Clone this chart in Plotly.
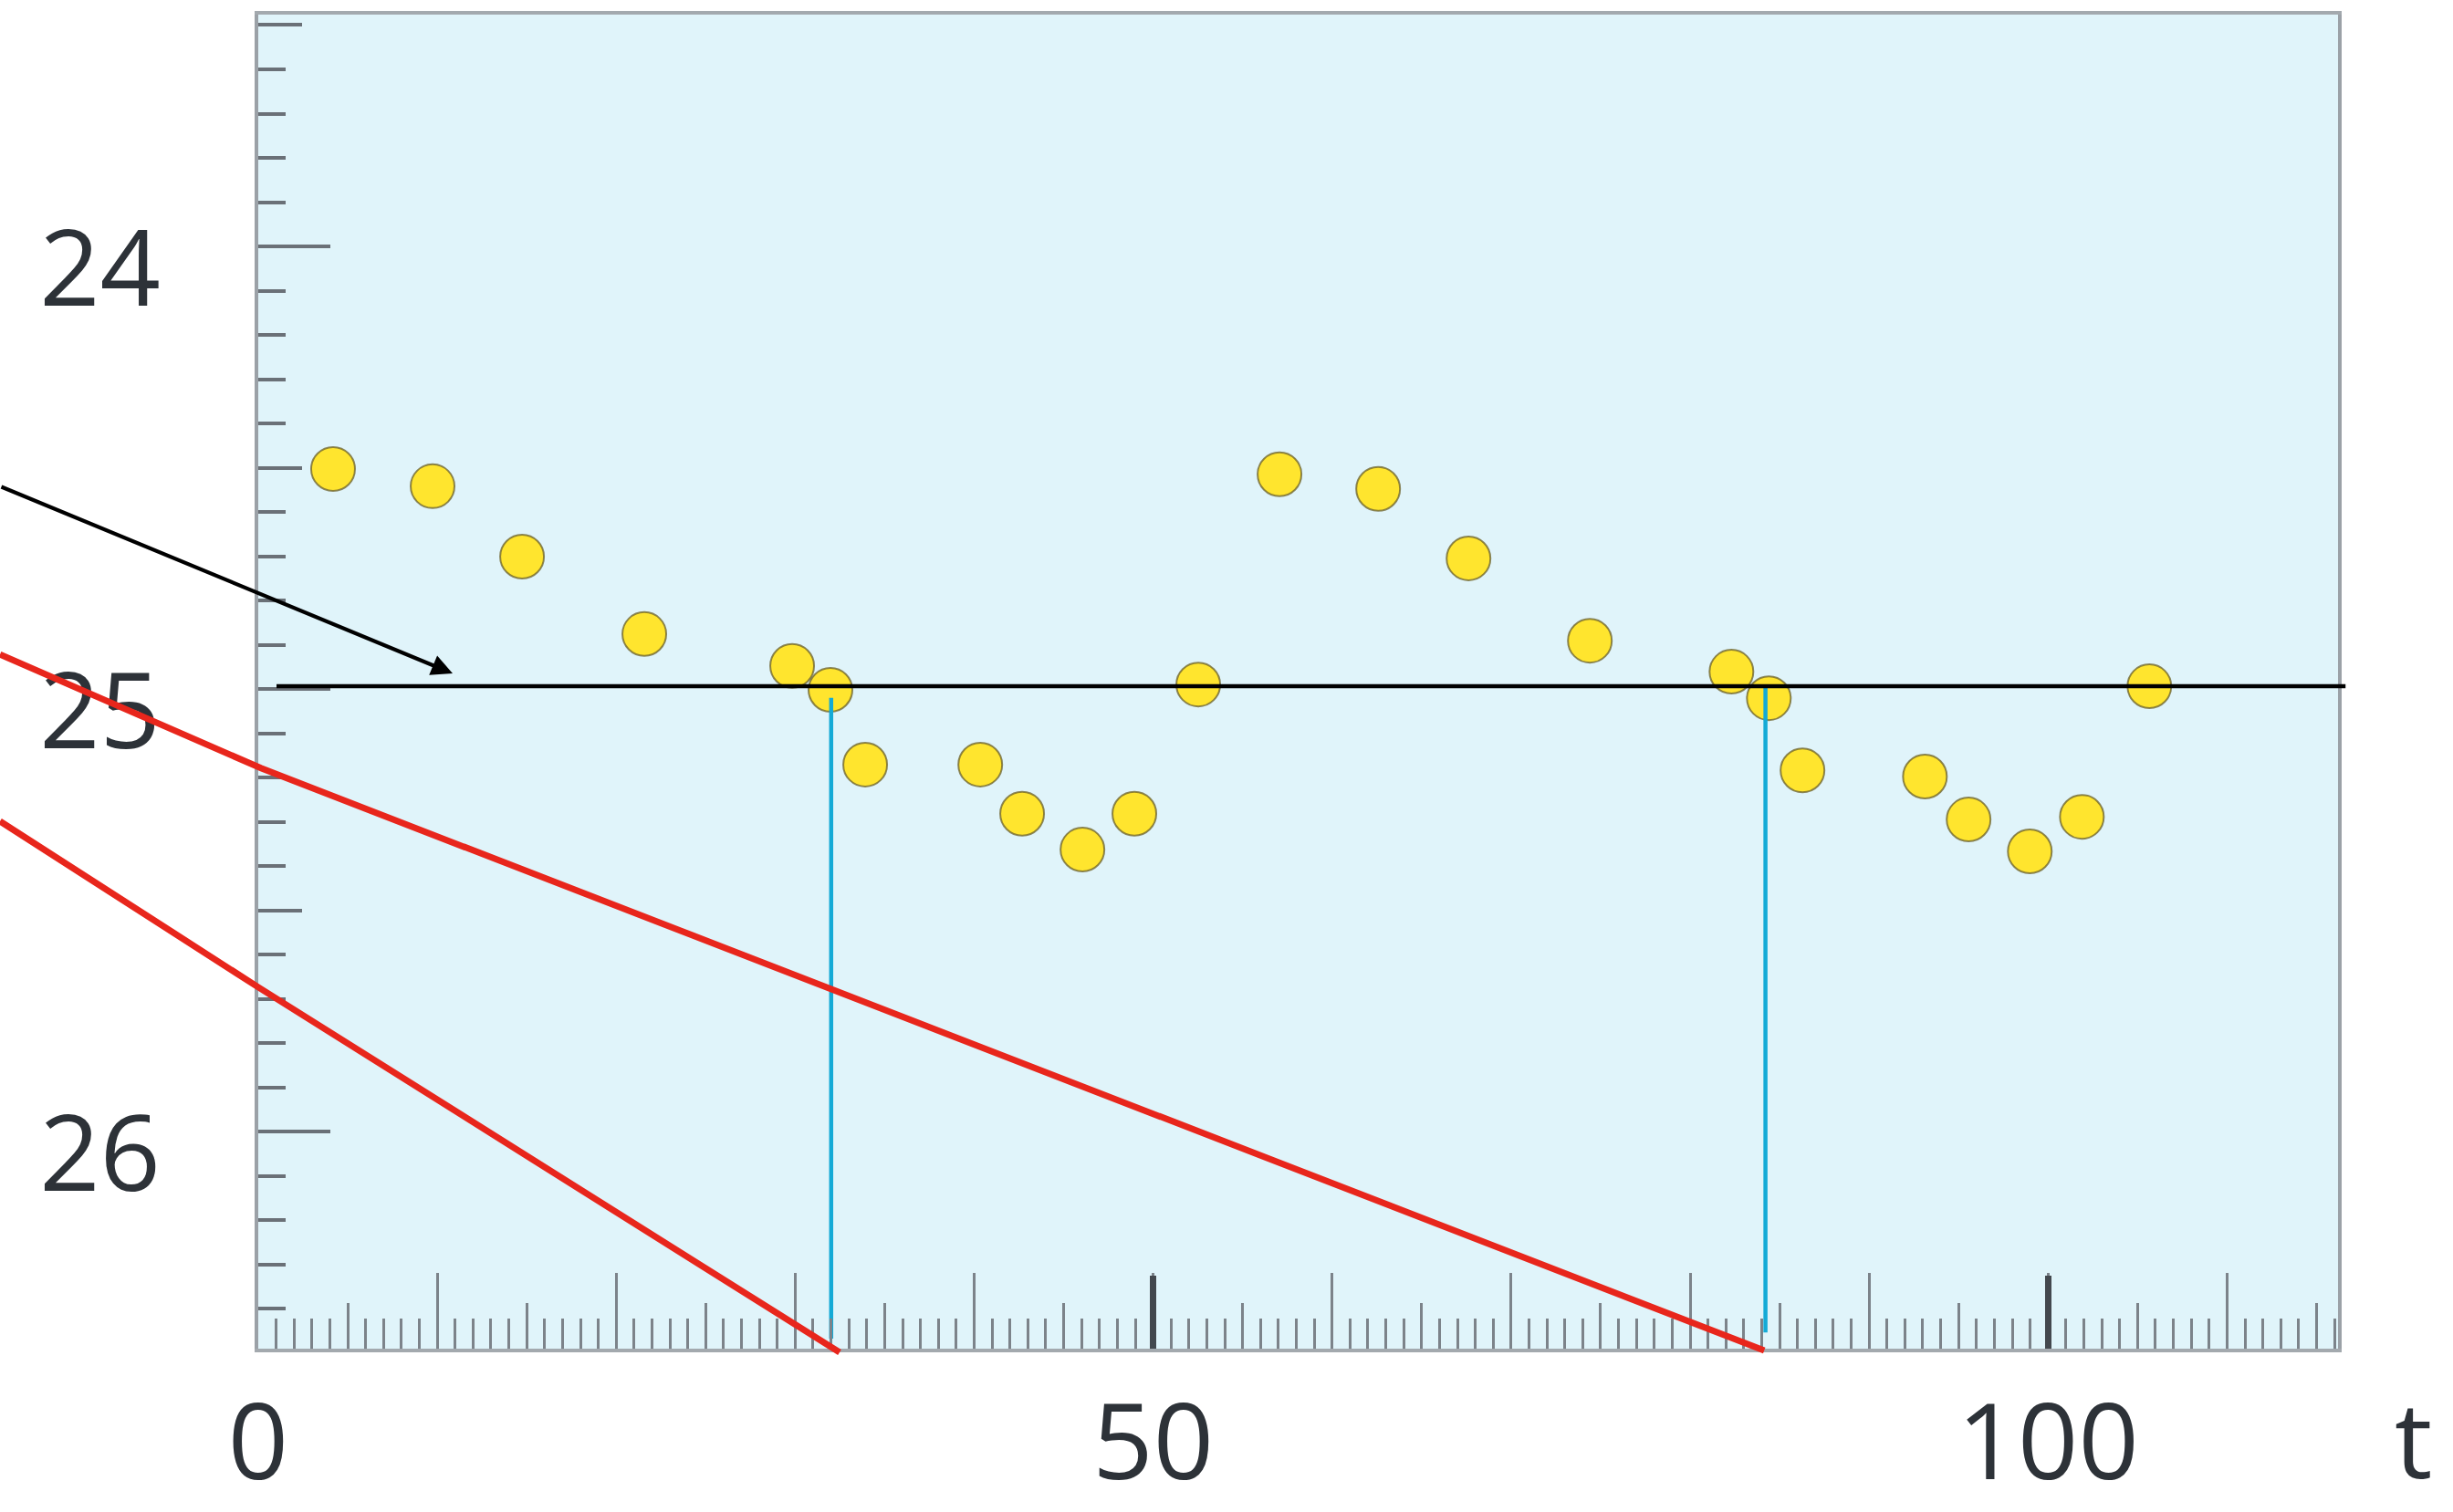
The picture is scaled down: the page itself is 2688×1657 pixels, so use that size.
import plotly.graph_objects as go

# ---------------- data ----------------
t_vals = [4.18, 9.74, 14.74, 21.57, 29.83, 31.97, 33.91, 40.34, 42.68, 46.05, 48.95, 52.52,
          57.06, 62.57, 67.62, 74.40, 82.31, 84.40, 86.28, 93.12, 95.56, 98.98, 101.89, 105.66]
mag_vals = [24.503, 24.542, 24.701, 24.876, 24.948, 25.002, 25.171, 25.171, 25.282, 25.363, 25.282, 24.990,
            24.515, 24.548, 24.705, 24.891, 24.961, 25.021, 25.184, 25.198, 25.295, 25.367, 25.289, 24.994]

# reference level (black line) and the arrow pointing to it
level_y = 24.994
level_x = [1.02, 116.62]
arrow_tail = (-14.43, 24.542)
arrow_tip = (10.86, 24.965)

# red straight lines (hand drawn)
red_a_x = [-14.43, 0.15, 84.14]
red_a_y = [24.922, 25.179, 26.495]
red_b_x = [-14.43, 0.0, 32.48]
red_b_y = [25.299, 25.674, 26.499]

# cyan verticals
cyan_x = [32.01, 84.21]
cyan_top = [25.02, 24.994]
cyan_bottom = [26.468, 26.454]

# axes
x_range = [0.0, 116.2]
y_range = [26.4907, 23.4763]  # reversed (bottom, top)
x_major = list(range(0, 116, 10))
x_labelled = [0, 50, 100]
x_mid = list(range(5, 116, 10))
x_bold = [50, 100]
y_major = [24, 25, 26]
y_mid = [23.5, 24.5, 25.5]
x_title = "t"
x_title_pos = (120.4, 26.69)

# ---------------- layout geometry (pixels) ----------------
W, H = 2688, 1657
L, R, T, B = 283, 2562, 16, 1478

sx = (R - L) / (x_range[1] - x_range[0])
sy = (B - T) / (y_range[0] - y_range[1])
x2_range = [x_range[0] - L / sx, x_range[0] + (W - L) / sx]
y2_range = [y_range[1] + (H - T) / sy, y_range[1] - T / sy]

FONT = "Open Sans"
FS = 116
TXT = "#2d3238"
TICK = "#7c838a"
RED = "#e8261c"
CYAN = "#14aad6"

fig = go.Figure()

# points
fig.add_trace(go.Scatter(
    x=t_vals, y=mag_vals, mode="markers",
    marker=dict(size=48, color="#ffe52e", line=dict(color="rgba(105,95,40,0.75)", width=2)),
    xaxis="x", yaxis="y", showlegend=False, hoverinfo="skip"))

# cyan verticals
for cx, c0, c1 in zip(cyan_x, cyan_top, cyan_bottom):
    fig.add_trace(go.Scatter(x=[cx, cx], y=[c0, c1], mode="lines",
                             line=dict(color=CYAN, width=4.5),
                             xaxis="x", yaxis="y", showlegend=False, hoverinfo="skip"))

# empty traces for tick-only overlay axes
fig.add_trace(go.Scatter(x=[], y=[], xaxis="x3", yaxis="y", showlegend=False, hoverinfo="skip"))
fig.add_trace(go.Scatter(x=[], y=[], xaxis="x4", yaxis="y", showlegend=False, hoverinfo="skip"))
fig.add_trace(go.Scatter(x=[], y=[], xaxis="x", yaxis="y3", showlegend=False, hoverinfo="skip"))

# full-figure overlay: red lines + black level line
for rx, ry in ((red_a_x, red_a_y), (red_b_x, red_b_y)):
    fig.add_trace(go.Scatter(x=rx, y=ry, mode="lines", line=dict(color=RED, width=7),
                             xaxis="x2", yaxis="y2", showlegend=False, hoverinfo="skip"))
fig.add_trace(go.Scatter(x=level_x, y=[level_y, level_y], mode="lines",
                         line=dict(color="black", width=4.5),
                         xaxis="x2", yaxis="y2", showlegend=False, hoverinfo="skip"))

common = dict(showgrid=False, zeroline=False, fixedrange=True)

fig.update_layout(
    width=W, height=H, autosize=False,
    margin=dict(l=0, r=0, t=0, b=0, pad=0),
    paper_bgcolor="white", plot_bgcolor="rgba(0,0,0,0)",
    font=dict(family=FONT, size=FS, color=TXT),
    xaxis=dict(domain=[L / W, R / W], range=x_range, anchor="y", **common,
               showline=True, mirror=True, linecolor="#a3a9ae", linewidth=4,
               ticks="inside", tickvals=x_major,
               ticktext=[str(v) if v in x_labelled else "" for v in x_major],
               ticklen=83, tickwidth=3, tickcolor=TICK,
               minor=dict(dtick=1, tick0=0, ticks="inside", ticklen=33, tickwidth=3, tickcolor=TICK),
               tickfont=dict(family=FONT, size=FS, color=TXT),
               ticklabelstandoff=0, automargin=False),
    yaxis=dict(domain=[1 - B / H, 1 - T / H], range=y_range, anchor="x", **common,
               showline=True, mirror=True, linecolor="#9ba1a7", linewidth=4,
               ticks="inside", tickvals=y_major, ticktext=[str(v) for v in y_major],
               ticklen=79, tickwidth=4, tickcolor="#6a7077",
               minor=dict(dtick=0.1, tick0=23.0, ticks="inside", ticklen=30, tickwidth=3.5, tickcolor="#6a7077"),
               tickfont=dict(family=FONT, size=FS, color=TXT),
               ticklabelstandoff=80, ticklabelshift=-24, automargin=False),
    xaxis3=dict(overlaying="x", anchor="y", side="bottom", range=x_range, **common,
                showline=False, ticks="inside", tickvals=x_mid, ticklen=50, tickwidth=3,
                tickcolor=TICK, showticklabels=False),
    xaxis4=dict(overlaying="x", anchor="y", side="bottom", range=x_range, **common,
                showline=False, ticks="inside", tickvals=x_bold, ticklen=80, tickwidth=7,
                tickcolor="#43484e", showticklabels=False),
    yaxis3=dict(overlaying="y", anchor="x", side="left", range=y_range, **common,
                showline=False, ticks="inside", tickvals=y_mid, ticklen=48, tickwidth=3.5,
                tickcolor="#6a7077", showticklabels=False),
    xaxis2=dict(domain=[0, 1], range=x2_range, anchor="y2", visible=False, **common),
    yaxis2=dict(domain=[0, 1], range=y2_range, anchor="x2", visible=False, **common),
    shapes=[dict(type="rect", xref="x domain", yref="y domain", x0=0, x1=1, y0=0, y1=1,
                 fillcolor="#e0f4fa", line=dict(width=0), layer="below")],
    annotations=[
        dict(x=arrow_tip[0], y=arrow_tip[1], ax=arrow_tail[0], ay=arrow_tail[1],
             xref="x2", yref="y2", axref="x2", ayref="y2", text="", showarrow=True,
             arrowhead=2, arrowsize=1.1, arrowwidth=4.2, arrowcolor="black", standoff=0),
        dict(x=x_title_pos[0], y=x_title_pos[1], xref="x2", yref="y2", text=x_title,
             showarrow=False, font=dict(family=FONT, size=FS, color=TXT),
             xanchor="center", yanchor="middle"),
    ],
)

fig.write_html("out.html")
